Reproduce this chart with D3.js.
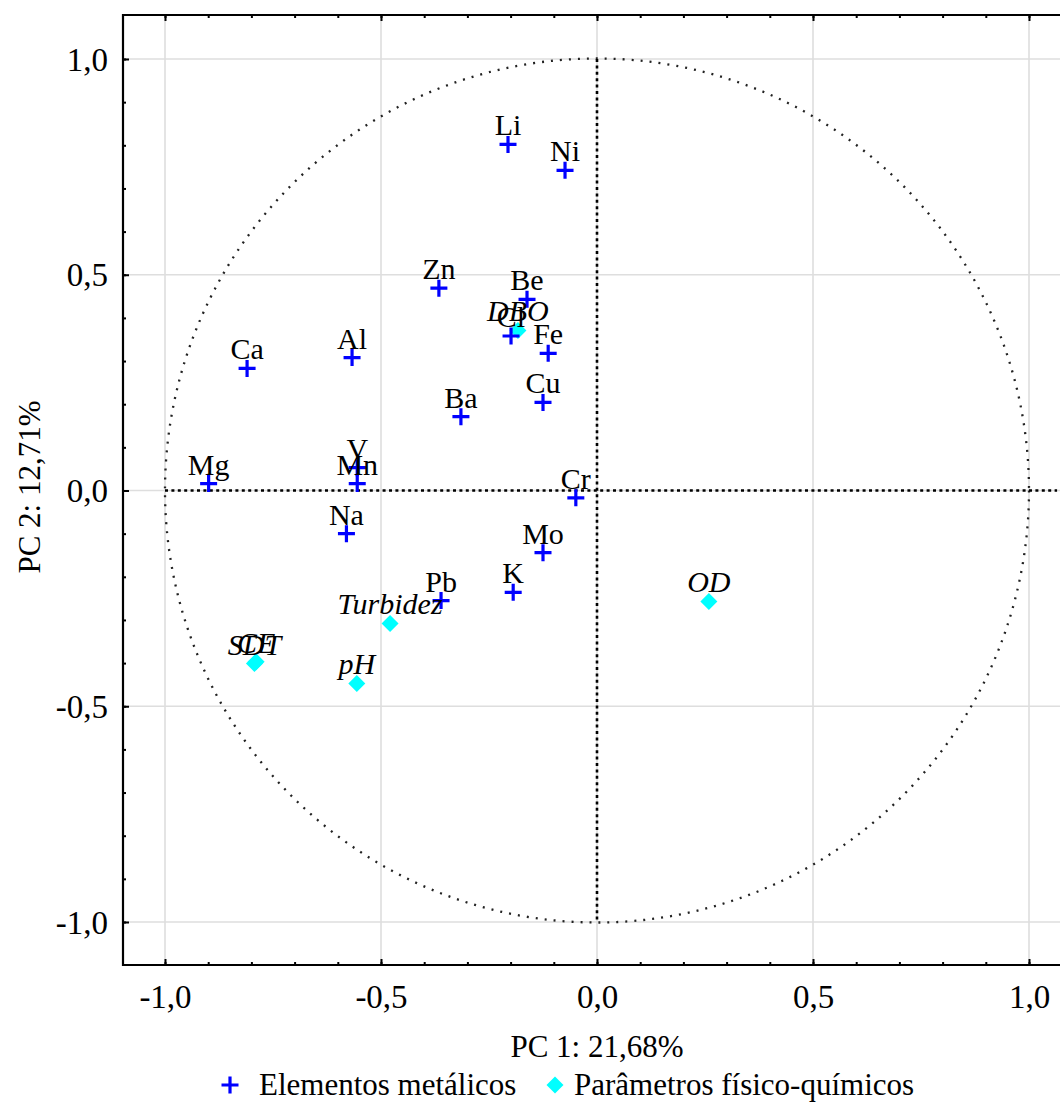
<!DOCTYPE html>
<html>
<head>
<meta charset="utf-8">
<script src="https://cdn.jsdelivr.net/npm/d3@7"></script>
<style>
html,body{margin:0;padding:0;background:#fff;}
svg{display:block;}
text{font-family:"Liberation Serif","Times New Roman",serif;fill:#000;}
</style>
</head>
<body>
<svg id="chart" width="1060" height="1102"></svg>
<script>
// ---- data ----
const metalNames = ["Li","Ni","Zn","Be","Cl","Fe","Al","Ca","Cu","Ba","V","Mn","Mg","Cr","Na","Mo","K","Pb"];
const metalPC1 = [-0.206,-0.074,-0.366,-0.162,-0.199,-0.113,-0.567,-0.810,-0.125,-0.315,-0.555,-0.555,-0.899,-0.049,-0.580,-0.125,-0.194,-0.361];
const metalPC2 = [0.802,0.742,0.469,0.443,0.358,0.318,0.308,0.283,0.204,0.171,0.053,0.016,0.016,-0.017,-0.100,-0.144,-0.236,-0.255];

const paramNames = ["DBO","CE","SDT","Turbidez","pH","OD"];
const paramPC1 = [-0.183,-0.789,-0.793,-0.479,-0.556,0.259];
const paramPC2 = [0.371,-0.397,-0.401,-0.308,-0.447,-0.257];

const majorTicks = [-1.0,-0.5,0.0,0.5,1.0];
const tickLabels = ["-1,0","-0,5","0,0","0,5","1,0"];
const xTitle = "PC 1: 21,68%";
const yTitle = "PC 2: 12,71%";
const legendLabels = ["Elementos metálicos","Parâmetros físico-químicos"];

// ---- layout ----
const svg = d3.select("#chart");
const x = d3.scaleLinear().domain([-1,1]).range([165,1029]);
const y = d3.scaleLinear().domain([-1,1]).range([922,59]);
const pLeft = 123, pTop = 15, pBottom = 965, pRight = 1062;

const BLUE = "#0000FF", CYAN = "#00FFFF";
const plusPath = "M-8.5,0H8.5M0,-8.5V8.5";
const diamondPath = "M0,-8.5L8.5,0L0,8.5L-8.5,0Z";

// gridlines
const g = svg.append("g");
g.selectAll("line.gx").data(majorTicks).enter().append("line")
  .attr("x1",d=>x(d)).attr("x2",d=>x(d)).attr("y1",pTop).attr("y2",pBottom)
  .attr("stroke","#dedede").attr("stroke-width",1.6);
g.selectAll("line.gy").data(majorTicks).enter().append("line")
  .attr("y1",d=>y(d)).attr("y2",d=>y(d)).attr("x1",pLeft).attr("x2",pRight)
  .attr("stroke","#dedede").attr("stroke-width",1.6);

// unit circle (dotted)
svg.append("circle").attr("cx",x(0)).attr("cy",y(0)).attr("r",x(1)-x(0))
  .attr("fill","none").attr("stroke","#222").attr("stroke-width",2.3)
  .attr("stroke-dasharray","2,7").attr("stroke-linecap","butt");

// zero lines (dotted)
svg.append("line").attr("x1",x(-1)).attr("x2",x(1.065)).attr("y1",y(0)).attr("y2",y(0))
  .attr("stroke","#000").attr("stroke-width",2.6).attr("stroke-dasharray","3,3.4");
svg.append("line").attr("x1",x(0)).attr("x2",x(0)).attr("y1",y(1)).attr("y2",y(-1))
  .attr("stroke","#000").attr("stroke-width",2.6).attr("stroke-dasharray","3,3.4");

// axes with inward ticks
const minor = d3.range(-10,11).map(i=>i/10);
const fmt = d=>tickLabels[majorTicks.findIndex(t=>Math.abs(t-d)<1e-9)] || "";
const axB = svg.append("g").attr("transform",`translate(0,${pBottom})`)
  .call(d3.axisBottom(x).tickValues(minor).tickSize(-3).tickFormat(""));
const axB2 = svg.append("g").attr("transform",`translate(0,${pBottom})`)
  .call(d3.axisBottom(x).tickValues(majorTicks).tickSize(-6).tickFormat(fmt));
const axT = svg.append("g").attr("transform",`translate(0,${pTop})`)
  .call(d3.axisTop(x).tickValues(minor).tickSize(-3).tickFormat(""));
const axT2 = svg.append("g").attr("transform",`translate(0,${pTop})`)
  .call(d3.axisTop(x).tickValues(majorTicks).tickSize(-6).tickFormat(""));
const axL = svg.append("g").attr("transform",`translate(${pLeft},0)`)
  .call(d3.axisLeft(y).tickValues(minor).tickSize(-3).tickFormat(""));
const axL2 = svg.append("g").attr("transform",`translate(${pLeft},0)`)
  .call(d3.axisLeft(y).tickValues(majorTicks).tickSize(-6).tickFormat(fmt));
[axB,axB2,axT,axT2,axL,axL2].forEach(a=>{
  a.select(".domain").remove();
  a.selectAll(".tick line").attr("stroke","#000").attr("stroke-width",2);
});
axB2.selectAll(".tick text").attr("font-size",33).attr("font-family","Liberation Serif")
  .attr("dy",null).attr("y",43);
axL2.selectAll(".tick text").attr("font-size",33).attr("font-family","Liberation Serif")
  .attr("x",-15).attr("dy","0.34em");

// frame (top, left, bottom)
svg.append("path").attr("d",`M${pRight},${pTop}H${pLeft}V${pBottom}H${pRight}`)
  .attr("fill","none").attr("stroke","#000").attr("stroke-width",2.2);

// points
const metals = metalNames.map((n,i)=>({n, a:metalPC1[i], b:metalPC2[i]}));
const params = paramNames.map((n,i)=>({n, a:paramPC1[i], b:paramPC2[i]}));

svg.append("g").selectAll("path").data(params).enter().append("path")
  .attr("d",diamondPath).attr("fill",CYAN)
  .attr("transform",d=>`translate(${x(d.a)},${y(d.b)})`);
svg.append("g").selectAll("path").data(metals).enter().append("path")
  .attr("d",plusPath).attr("stroke",BLUE).attr("stroke-width",3.2).attr("fill","none")
  .attr("transform",d=>`translate(${x(d.a)},${y(d.b)})`);

// labels
svg.append("g").selectAll("text").data(metals).enter().append("text")
  .attr("x",d=>x(d.a)).attr("y",d=>y(d.b)-9).attr("text-anchor","middle")
  .attr("font-size",30).text(d=>d.n);
svg.append("g").selectAll("text").data(params).enter().append("text")
  .attr("x",d=>x(d.a)).attr("y",d=>y(d.b)-9).attr("text-anchor","middle")
  .attr("font-size",30).attr("font-style","italic").text(d=>d.n);

// axis titles
svg.append("text").attr("x",597).attr("y",1057).attr("text-anchor","middle")
  .attr("font-size",31).text(xTitle);
svg.append("text").attr("transform","translate(40,487) rotate(-90)").attr("text-anchor","middle")
  .attr("font-size",31).text(yTitle);

// legend
const lg = svg.append("g");
lg.append("path").attr("d",plusPath).attr("stroke",BLUE).attr("stroke-width",3.2).attr("fill","none")
  .attr("transform","translate(230,1085)");
lg.append("text").attr("x",259).attr("y",1095).attr("font-size",31).text(legendLabels[0]);
lg.append("path").attr("d",diamondPath).attr("fill",CYAN).attr("transform","translate(555,1085)");
lg.append("text").attr("x",574).attr("y",1095).attr("font-size",31).text(legendLabels[1]);
</script>
</body>
</html>
